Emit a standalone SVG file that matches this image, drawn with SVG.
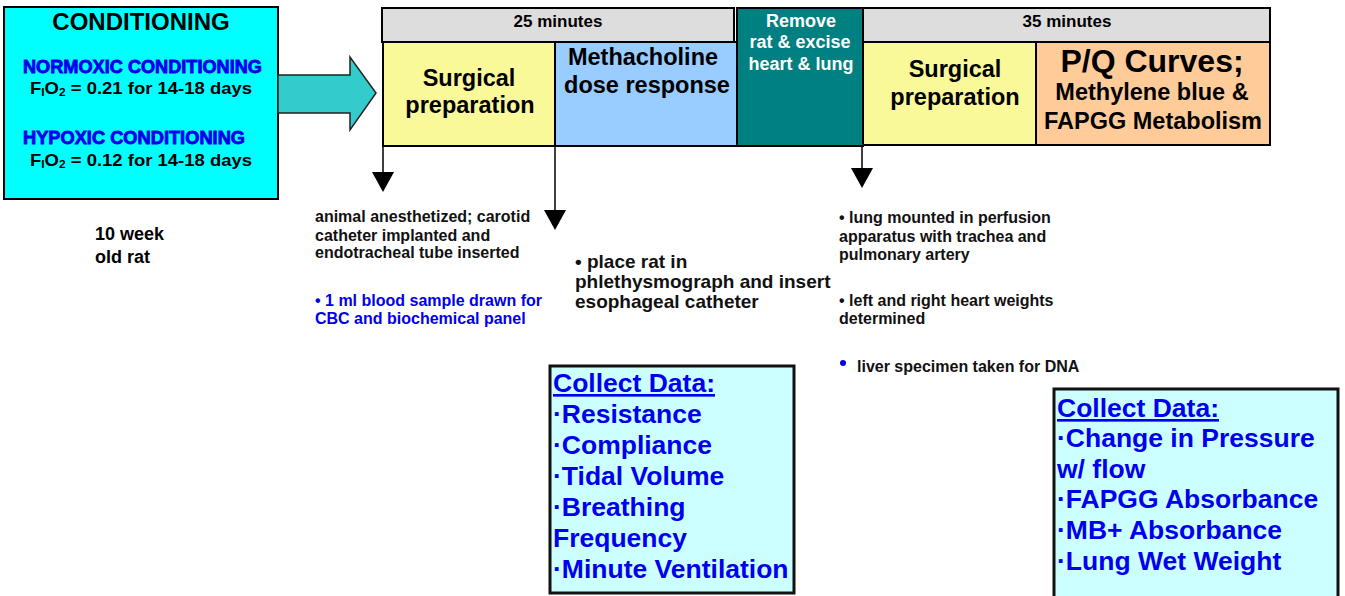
<svg xmlns="http://www.w3.org/2000/svg" width="1345" height="596" viewBox="0 0 1345 596">
<style>
text{font-family:"Liberation Sans",Arial,sans-serif;font-weight:bold}
.box{stroke:#000;stroke-width:2}
.hdr{font-size:17px;fill:#000;text-anchor:middle}
.big{font-size:23.5px;fill:#000;text-anchor:middle}
.note{font-size:16px;fill:#111}
.note2{font-size:19px;fill:#111}
.blue{fill:#0000EE}
.cd{font-size:26.5px;fill:#0000EE}
.conn{stroke:#000;stroke-width:1.5;fill:none}
.head{fill:#000}
.wh{font-size:18px;fill:#fff;text-anchor:middle}
</style>
<rect width="1345" height="596" fill="#fff"/>
<g id="conditioning">
<rect class="box" x="4" y="7" width="274" height="192" fill="#00FFFF"/>
<text x="141" y="30" style="font-size:24px;text-anchor:middle">CONDITIONING</text>
<text x="142.5" y="73" class="blue" style="font-size:17.5px;text-anchor:middle;stroke:#0000EE;stroke-width:0.8" textLength="239" lengthAdjust="spacingAndGlyphs">NORMOXIC CONDITIONING</text>
<text x="141" y="94" style="font-size:17px;text-anchor:middle" textLength="222" lengthAdjust="spacingAndGlyphs">F<tspan font-size="11" dy="2">I</tspan><tspan dy="-2">O</tspan><tspan font-size="11" dy="2">2</tspan><tspan dy="-2"> = 0.21 for 14-18 days</tspan></text>
<text x="134" y="144" class="blue" style="font-size:17.5px;text-anchor:middle;stroke:#0000EE;stroke-width:0.8" textLength="222" lengthAdjust="spacingAndGlyphs">HYPOXIC CONDITIONING</text>
<text x="141" y="166" style="font-size:17px;text-anchor:middle" textLength="222" lengthAdjust="spacingAndGlyphs">F<tspan font-size="11" dy="2">I</tspan><tspan dy="-2">O</tspan><tspan font-size="11" dy="2">2</tspan><tspan dy="-2"> = 0.12 for 14-18 days</tspan></text>
</g>
<g id="rat-label">
<text x="95" y="240" style="font-size:18px">10 week</text>
<text x="95" y="263" style="font-size:18px">old rat</text>
</g>
<g id="big-arrow">
<polygon points="278,75 350,75 350,57 376,93 350,130 350,113 278,113" fill="#33CCCC" stroke="#222" stroke-width="1.5"/>
</g>
<g id="header-25">
<rect class="box" x="382" y="8" width="352" height="34" fill="#DDDDDD"/>
<text class="hdr" x="558" y="27">25 minutes</text>
</g>
<g id="surgical-1">
<rect class="box" x="383" y="42" width="172" height="104" fill="#F9F99A"/>
<text class="big" x="469" y="86">Surgical</text>
<text class="big" x="470" y="113">preparation</text>
</g>
<g id="methacholine">
<rect class="box" x="555" y="42" width="182" height="104" fill="#99CCFF"/>
<text class="big" x="643" y="65">Methacholine</text>
<text class="big" x="647" y="93">dose response</text>
</g>
<g id="remove">
<rect class="box" x="737" y="8" width="126" height="138" fill="#008080"/>
<text class="wh" x="801" y="27">Remove</text>
<text class="wh" x="800" y="48">rat &amp; excise</text>
<text class="wh" x="801" y="70">heart &amp; lung</text>
</g>
<g id="header-35">
<rect class="box" x="863" y="8" width="407" height="34" fill="#DDDDDD"/>
<text class="hdr" x="1067" y="27">35 minutes</text>
</g>
<g id="surgical-2">
<rect class="box" x="863" y="42" width="173" height="103" fill="#F9F99A"/>
<text class="big" x="955" y="77">Surgical</text>
<text class="big" x="955" y="105">preparation</text>
</g>
<g id="pq-curves">
<rect class="box" x="1036" y="42" width="234" height="103" fill="#FFCC99"/>
<text x="1152" y="72" style="font-size:32px;text-anchor:middle">P/Q Curves;</text>
<text x="1152" y="100" style="font-size:23.5px;text-anchor:middle">Methylene blue &amp;</text>
<text x="1153" y="129" style="font-size:23.5px;text-anchor:middle">FAPGG Metabolism</text>
</g>
<g id="connectors">
<line class="conn" x1="383" y1="146" x2="383" y2="173"/>
<polygon class="head" points="372,172 394,172 383,192"/>
<line class="conn" x1="555" y1="146" x2="555" y2="211"/>
<polygon class="head" points="544,210 566,210 555,230"/>
<line class="conn" x1="862" y1="146" x2="862" y2="169"/>
<polygon class="head" points="851,168 873,168 862,188"/>
</g>
<g id="notes-surgery">
<text class="note" x="315" y="222">animal anesthetized; carotid</text>
<text class="note" x="315" y="241">catheter implanted and</text>
<text class="note" x="315" y="258">endotracheal tube inserted</text>
<text class="note blue" x="315" y="306">• 1 ml blood sample drawn for</text>
<text class="note blue" x="315" y="324">CBC and biochemical panel</text>
</g>
<g id="notes-pleth">
<text class="note2" x="575" y="268">• place rat in</text>
<text class="note2" x="575" y="288">phlethysmograph and insert</text>
<text class="note2" x="575" y="308">esophageal catheter</text>
</g>
<g id="notes-excise">
<text class="note" x="839" y="223">• lung mounted in perfusion</text>
<text class="note" x="839" y="242">apparatus with trachea and</text>
<text class="note" x="839" y="260">pulmonary artery</text>
<text class="note" x="839" y="306">• left and right heart weights</text>
<text class="note" x="839" y="324">determined</text>
<circle cx="843" cy="363" r="3" fill="#0000EE"/>
<text class="note" x="857" y="372">liver specimen taken for DNA</text>
</g>
<g id="collect-1">
<rect x="550" y="366" width="244" height="227" fill="#CCFFFF" stroke="#111" stroke-width="3"/>
<text class="cd" x="553" y="392" text-decoration="underline">Collect Data:</text>
<text class="cd" x="553" y="423">·Resistance</text>
<text class="cd" x="553" y="454">·Compliance</text>
<text class="cd" x="553" y="485">·Tidal Volume</text>
<text class="cd" x="553" y="516">·Breathing</text>
<text class="cd" x="553" y="547">Frequency</text>
<text class="cd" x="553" y="578">·Minute Ventilation</text>
</g>
<g id="collect-2">
<rect x="1054" y="389" width="284" height="210" fill="#CCFFFF" stroke="#111" stroke-width="3"/>
<text class="cd" x="1057" y="417" text-decoration="underline">Collect Data:</text>
<text class="cd" x="1057" y="447">·Change in Pressure</text>
<text class="cd" x="1057" y="478">w/ flow</text>
<text class="cd" x="1057" y="508">·FAPGG Absorbance</text>
<text class="cd" x="1057" y="539">·MB+ Absorbance</text>
<text class="cd" x="1057" y="570">·Lung Wet Weight</text>
</g>
</svg>
